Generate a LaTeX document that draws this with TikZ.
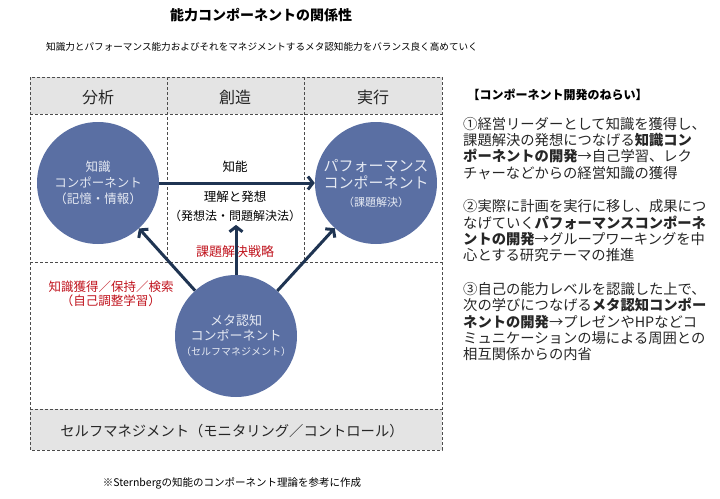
\documentclass[tikz,border=0pt]{standalone}
\usepackage{fontspec}
\setmainfont{Noto Sans CJK JP}
\usetikzlibrary{arrows.meta, positioning}
\definecolor{compblue}{HTML}{5A6FA3}
\definecolor{arrownavy}{HTML}{1F3452}
\definecolor{notered}{HTML}{C0141E}
\definecolor{bandgray}{HTML}{E4E4E4}
\definecolor{circtext}{HTML}{E6EAF3}
\newcommand{\fsz}[2]{\fontsize{#1}{#2}\selectfont}

\begin{document}
\begin{tikzpicture}[
    x=1pt, y=-1pt,
    comp/.style={circle, fill=compblue, minimum size=122pt, inner sep=0pt, text=circtext, align=center},
    arrow/.style={-{Straight Barb[length=5pt, width=13pt]}, line width=3pt, arrownavy},
    frame/.style={draw=black!70, line width=0.7pt, dash pattern=on 3pt off 2pt},
    head/.style={font=\fsz{16}{18}, text=black!85},
    note/.style={text=notered, align=center, font=\fsz{12.5}{14}},
    aim/.style={align=left, anchor=north west, inner sep=0pt, text=black!85, font=\fsz{14.3}{16.3}}
]
    \useasboundingbox (0,0) rectangle (720,498);

    % Title
    \node[font=\bfseries\fsz{14}{16}] (title) at (261,15) {能力コンポーネントの関係性};
    \node[font=\fsz{9.6}{11}] (sub) at (262,47) {知識力とパフォーマンス能力およびそれをマネジメントするメタ認知能力をバランス良く高めていく};

    % Frame
    \fill[bandgray] (30,77) rectangle (442,114);
    \fill[bandgray] (30,409) rectangle (442,450);
    \draw[frame] (30,77) rectangle (442,450);
    \draw[frame] (30,114) -- (442,114);
    \draw[frame] (30,262) -- (442,262);
    \draw[frame] (30,409) -- (442,409);
    \draw[frame] (167,77) -- (167,262);
    \draw[frame] (304,77) -- (304,262);

    % Column heads
    \node[head] (h1) at (98,97) {分析};
    \node[head] (h2) at (235,97) {創造};
    \node[head] (h3) at (373,97) {実行};

    % Components
    \node[comp, font=\fsz{12.5}{16}] (kn) at (98,183) {知識\\コンポーネント\\（記憶・情報）};
    \node[comp, font=\fsz{15}{17.5}] (pf) at (376,183) {パフォーマンス\\コンポーネント\\{\fsz{11}{13}（課題解決）}};
    \node[comp, font=\fsz{13}{15}] (mc) at (236,336) {メタ認知\\コンポーネント\\{\fsz{10}{12}（セルフマネジメント）}};

    % Labels
    \node[font=\fsz{12.5}{14}] (iq) at (235,167) {知能};
    \node[align=center, font=\fsz{12.5}{19}] (idea) at (235,206) {理解と発想\\{\fsz{12}{14}（発想法・問題解決法）}};
    \node[note, font=\fsz{13}{15}] (strat) at (235,252) {課題解決戦略};
    \node[note] (acq) at (111,294) {知識獲得／保持／検索\\（自己調整学習）};
    \node[font=\fsz{14.3}{16}, text=black!85] (selfm) at (232,431) {セルフマネジメント（モニタリング／コントロール）};
    \node[font=\fsz{10.5}{12}] (src) at (232,483) {※Sternbergの知能のコンポーネント理論を参考に作成};

    % Connectors
    \draw[arrow] (kn) -- (pf);
    \draw[arrow] (mc) -- (kn);
    \draw[arrow] (mc) -- (pf);
    \draw[arrow] (mc.north) -- (mc.north |- idea.south);

    % Aims
    \node[font=\bfseries\fsz{12}{14}, anchor=west] (aims) at (464,95) {【コンポーネント開発のねらい】};
    \node[aim] (a1) at (463,117) {①経営リーダーとして知識を獲得し、\\課題解決の発想につなげる\textbf{知識コン}\\\textbf{ポーネントの開発}→自己学習、レク\\チャーなどからの経営知識の獲得};
    \node[aim, below=20pt of a1.south west, anchor=north west] (a2) {②実際に計画を実行に移し、成果につ\\なげていく\textbf{パフォーマンスコンポーネ}\\\textbf{ントの開発}→グループワーキングを中\\心とする研究テーマの推進};
    \node[aim, below=20pt of a2.south west, anchor=north west] (a3) {③自己の能力レベルを認識した上で、\\次の学びにつなげる\textbf{メタ認知コンポー}\\\textbf{ネントの開発}→プレゼンやHPなどコ\\ミュニケーションの場による周囲との\\相互関係からの内省};
\end{tikzpicture}
\end{document}
